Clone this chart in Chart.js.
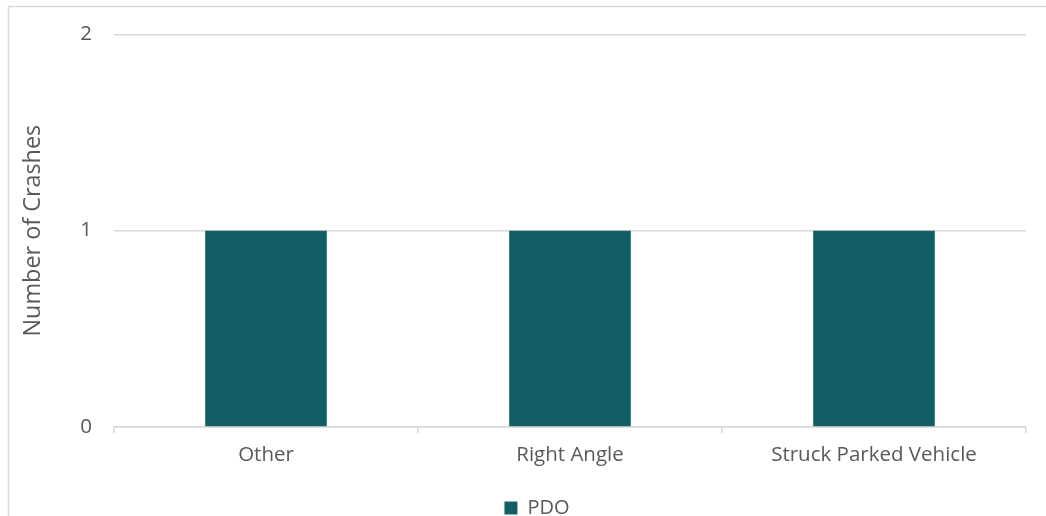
<!DOCTYPE html>
<html>
<head>
<meta charset="utf-8">
<script src="https://cdn.jsdelivr.net/npm/chart.js@4"></script>
<style>
  html, body { margin: 0; padding: 0; background: #ffffff; }
  #wrap { width: 1046px; height: 516px; }
</style>
</head>
<body>
<div id="wrap"><canvas id="crash-chart" width="1046" height="516"></canvas></div>
<script>
// Chart data
const categories = ["Other", "Right Angle", "Struck Parked Vehicle"];
const pdoValues = [1, 1, 1];
const seriesName = "PDO";
const yTicks = [0, 1, 2];

const textColor = "#595959";
const gridColor = "#D9D9D9";
const fontFamily = "'Open Sans', 'DejaVu Sans', sans-serif";

// Outer frame lines (top and left edge of the chart box)
const framePlugin = {
    id: "frame",
    afterLayout(chart) {
        // nudge the legend a little right, like the original
        if (chart.legend) {
            chart.legend.left += 24;
            chart.legend.right += 24;
        }
    },
    beforeDraw(chart) {
        const ctx = chart.ctx;
        ctx.save();
        ctx.strokeStyle = gridColor;
        ctx.lineWidth = 1.5;
        ctx.beginPath();
        ctx.moveTo(8.5, 516);
        ctx.lineTo(8.5, 6.5);
        ctx.lineTo(1046, 6.5);
        ctx.stroke();
        ctx.restore();
    }
};

const ctx = document.getElementById("crash-chart").getContext("2d");

new Chart(ctx, {
    type: "bar",
    data: {
        labels: categories,
        datasets: [{
            label: seriesName,
            data: pdoValues,
            backgroundColor: "#135E66",
            borderWidth: 0,
            categoryPercentage: 0.8,
            barPercentage: 0.5
        }]
    },
    options: {
        responsive: false,
        animation: false,
        devicePixelRatio: 1,
        layout: {
            // legend sits close to the bottom edge, so let it hang a bit lower
            padding: { top: 30, right: 20, left: 0, bottom: -12 }
        },
        plugins: {
            legend: {
                position: "bottom",
                labels: {
                    color: textColor,
                    font: { family: fontFamily, size: 20 },
                    boxWidth: 13,
                    boxHeight: 13,
                    padding: 0
                }
            },
            tooltip: { enabled: false }
        },
        scales: {
            x: {
                grid: {
                    display: true,
                    drawOnChartArea: false,
                    drawTicks: true,
                    tickLength: 6,
                    color: gridColor,
                    lineWidth: 1.5,
                    offset: true
                },
                border: { display: true, color: gridColor, width: 1.5 },
                ticks: {
                    color: textColor,
                    font: { family: fontFamily, size: 20.5 },
                    padding: 10
                },
                afterFit(scale) {
                    scale.height = 71;
                }
            },
            y: {
                min: 0,
                max: 2,
                afterBuildTicks(scale) {
                    scale.ticks = yTicks.map(v => ({ value: v }));
                },
                grid: {
                    color: gridColor,
                    lineWidth: 1.5,
                    drawTicks: false
                },
                border: { display: false },
                ticks: {
                    color: textColor,
                    font: { family: fontFamily, size: 20.5 },
                    padding: 22
                },
                title: {
                    display: true,
                    text: "Number of Crashes",
                    color: textColor,
                    font: { family: fontFamily, size: 23.4 },
                    padding: { top: 19, bottom: 0 }
                },
                afterFit(scale) {
                    scale.width = 114;
                }
            }
        }
    },
    plugins: [framePlugin]
});
</script>
</body>
</html>
